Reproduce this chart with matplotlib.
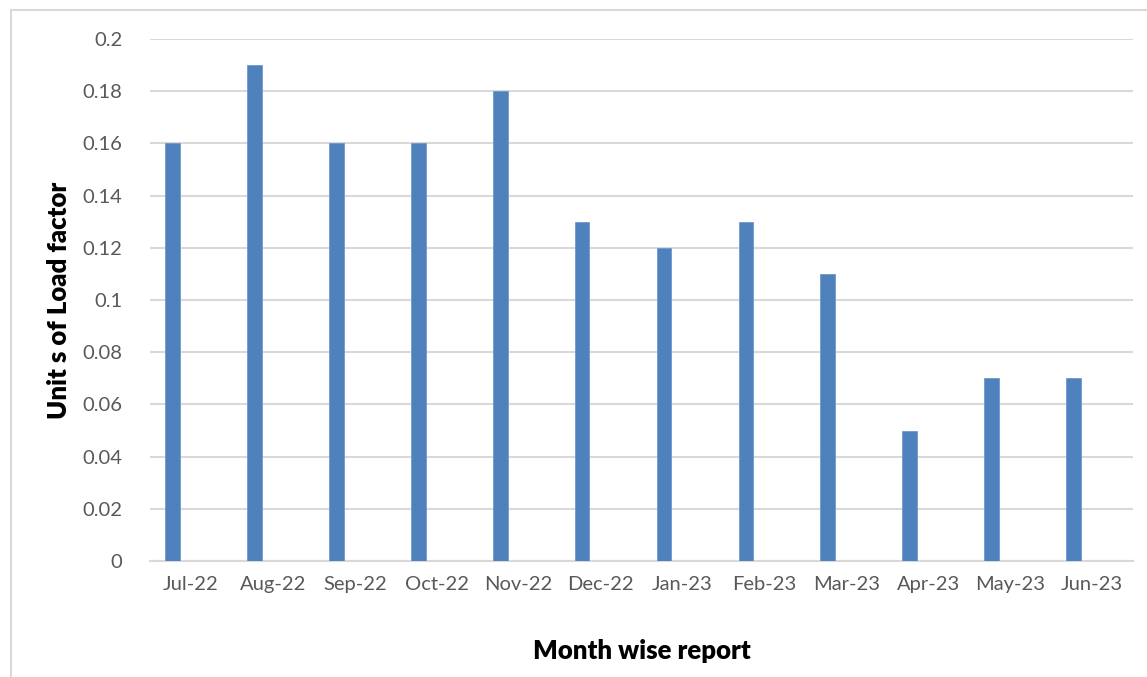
import matplotlib
matplotlib.use("Agg")
import matplotlib.pyplot as plt
from matplotlib.patches import Rectangle
import numpy as np

months = ["Jul-22", "Aug-22", "Sep-22", "Oct-22", "Nov-22", "Dec-22",
          "Jan-23", "Feb-23", "Mar-23", "Apr-23", "May-23", "Jun-23"]
load_factor = [0.16, 0.19, 0.16, 0.16, 0.18, 0.13, 0.12, 0.13, 0.11, 0.05, 0.07, 0.07]
y_ticks = [0, 0.02, 0.04, 0.06, 0.08, 0.1, 0.12, 0.14, 0.16, 0.18, 0.2]
y_tick_labels = ["0", "0.02", "0.04", "0.06", "0.08", "0.1", "0.12", "0.14", "0.16", "0.18", "0.2"]

plt.rcParams['font.family'] = ['Lato', 'DejaVu Sans']

W, H = 1147, 677
fig = plt.figure(figsize=(W / 100, H / 100), dpi=100)
ax = fig.add_axes([150 / W, 1 - 561 / H, (1133 - 150) / W, (561 - 39) / H])

# chart frame
fig.patches.append(Rectangle((11 / W, -0.05), 1.2, 1 - 10 / H + 0.05,
                             transform=fig.transFigure, fill=False,
                             edgecolor="#d9d9d9", linewidth=1.5))

x = np.arange(len(months))
ax.bar(x - 0.225, load_factor, width=0.18, color="#4f81bd",
       edgecolor="#6f98cc", linewidth=0.6, zorder=3)

ax.set_xlim(-0.5, len(months) - 0.5)
ax.set_ylim(0, 0.2)
ax.set_yticks(y_ticks)
ax.set_yticklabels(y_tick_labels)
ax.set_xticks(x)
ax.set_xticklabels(months)
ax.yaxis.grid(True, color="#d9d9d9", linewidth=1.5, zorder=0)
ax.set_axisbelow(True)
for s in ["top", "right", "left"]:
    ax.spines[s].set_visible(False)
ax.spines["bottom"].set_color("#d9d9d9")
ax.spines["bottom"].set_linewidth(1.5)
ax.tick_params(axis="both", length=0, labelsize=14.5, colors="#595959")
ax.tick_params(axis="y", pad=20)
ax.tick_params(axis="x", pad=11)

ax.set_xlabel("Month wise report", fontsize=18.5, fontweight="heavy",
              color="black", labelpad=33)
ax.set_ylabel("Unit s of Load factor", fontsize=18.5, fontweight="heavy",
              color="black", labelpad=8)

fig.savefig("out.png", dpi=100, facecolor="white")
